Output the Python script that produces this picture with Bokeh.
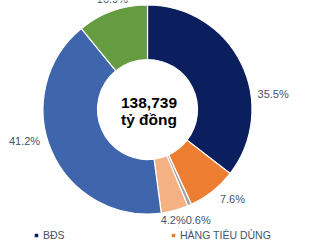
import numpy as np
from bokeh.plotting import figure
from bokeh.models import Range1d, ColumnDataSource, Legend, LegendItem
from bokeh.embed import file_html
from bokeh.resources import INLINE
from bokeh.core.properties import value

# ---- data ----
sectors = ["BĐS", "HÀNG TIÊU DÙNG", "VẬT LIỆU", "TIỆN ÍCH", "NGÂN HÀNG", "KHÁC"]
shares = [35.5, 7.6, 0.6, 4.2, 41.2, 10.9]
labels = ["35.5%", "7.6%", "0.6%", "4.2%", "41.2%", "10.9%"]
total_line1 = "138,739"
total_line2 = "tỷ đồng"
legend_shown = ["BĐS", "HÀNG TIÊU DÙNG"]

# ---- style / layout ----
colors = ["#0B1F5E", "#ED7D31", "#A5A5A5", "#F4B183", "#3F65AD", "#659B41"]
label_nudge_deg = [-19, 5, 1, -2, -9, -2]
label_nudge_r = [0, 0, 0, -6, 0, -5]
W, H = 326, 245
CX, CY = 147, H - 109
R_OUT, R_IN = 104.5, 50
TXT = "#44546A"

frac = np.array(shares) / np.sum(shares)
cum = np.concatenate([[0], np.cumsum(frac)])
start = np.pi / 2 - cum[:-1] * 2 * np.pi
end = np.pi / 2 - cum[1:] * 2 * np.pi
mid = (start + end) / 2 + np.radians(label_nudge_deg)

ext = np.abs(np.cos(mid)) * 3.1 * np.array([len(s) for s in labels]) + np.abs(np.sin(mid)) * 6
lr = R_OUT + 6 + ext + np.array(label_nudge_r)
lx = CX + lr * np.cos(mid)
ly = CY + lr * np.sin(mid)

src = ColumnDataSource(dict(sector=sectors, start=start, end=end, color=colors))
lab = ColumnDataSource(dict(x=lx, y=ly, text=labels))

p = figure(width=W, height=H, output_backend="svg", toolbar_location=None,
           x_range=Range1d(0, W), y_range=Range1d(0, H), min_border=0,
           x_axis_type=None, y_axis_type=None)
p.grid.visible = False
p.outline_line_color = None
p.background_fill_color = "white"
p.border_fill_color = "white"

r = p.annular_wedge(x=CX, y=CY, inner_radius=R_IN, outer_radius=R_OUT,
                    start_angle="start", end_angle="end", direction="clock",
                    fill_color="color", line_color="white", line_width=1.2, source=src)

p.text(x="x", y="y", text="text", source=lab, text_align="center", text_baseline="middle",
       text_font=value("Liberation Sans"), text_font_size="11px", text_color=TXT)

p.text(x=[CX + 1.5, CX + 1.5], y=[H - 102.5, H - 119], text=[total_line1, total_line2],
       text_align="center", text_baseline="middle", text_font=value("Liberation Sans"),
       text_font_style="bold", text_font_size="15.5px", text_color="#000000")

legend_x = [33, 170]
for i, name in enumerate(legend_shown):
    idx = sectors.index(name)
    lg = Legend(items=[LegendItem(label=name, renderers=[r], index=idx)],
                location=(legend_x[i], 4), orientation="horizontal",
                glyph_width=6, glyph_height=6, label_standoff=4,
                label_text_font="Liberation Sans", label_text_font_size="10.5px",
                label_text_color=TXT, label_height=10,
                padding=0, margin=0, spacing=0,
                border_line_alpha=0, background_fill_alpha=0)
    p.add_layout(lg)

open("out.html", "w").write(file_html(p, INLINE))
